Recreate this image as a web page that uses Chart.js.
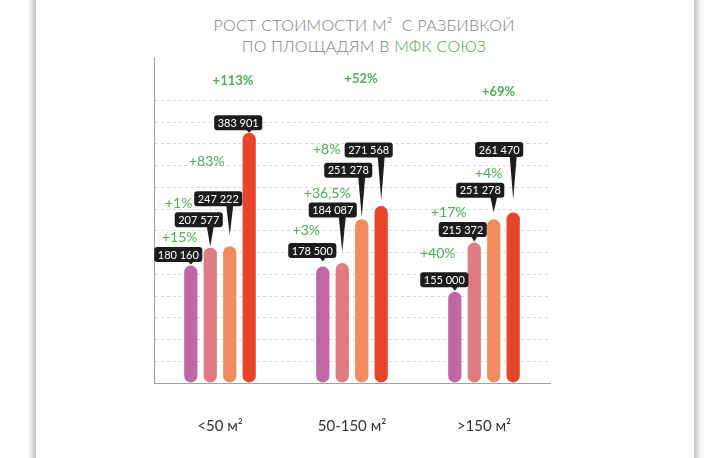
<!DOCTYPE html>
<html>
<head>
<meta charset="utf-8">
<script src="https://cdn.jsdelivr.net/npm/chart.js@4"></script>
<style>
  html, body { margin:0; padding:0; background:#fff; width:728px; height:458px; overflow:hidden; }
  #card { position:absolute; left:36px; top:-30px; width:658px; height:520px; background:#fff;
          box-shadow: 0 0 9px 1px rgba(0,0,0,0.42); }
  #title { position:absolute; left:0; top:14px; width:728px; text-align:center; font-family:Lato, sans-serif;
           font-size:16px; font-weight:300; line-height:21px; color:#7c7c7c; letter-spacing:0.3px; }
  #title .g { color:#3fa843; }
  canvas { position:absolute; left:0; top:0; }
</style>
</head>
<body>
<div id="card"></div>
<div id="title">РОСТ СТОИМОСТИ М²&nbsp; С РАЗБИВКОЙ<br>ПО ПЛОЩАДЯМ В <span class="g">МФК СОЮЗ</span></div>
<canvas id="c" width="728" height="458"></canvas>
<script>
// ---- data ----
const categories = ['<50 м²', '50-150 м²', '>150 м²'];
const series1 = [180160, 178500, 140000];
const series2 = [207577, 184087, 215372];
const series3 = [209700, 251278, 251278];
const series4 = [383901, 271568, 261470];
const valueLabels1 = ['180 160', '178 500', '155 000'];
const valueLabels2 = ['207 577', '184 087', '215 372'];
const valueLabels3 = ['247 222', '251 278', '251 278'];
const valueLabels4 = ['383 901', '271 568', '261 470'];
const growth2 = ['+15%', '+3%', '+40%'];
const growth3 = ['+1%', '+36,5%', '+17%'];
const growth4 = ['+83%', '+8%', '+4%'];
const totalGrowth = ['+113%', '+52%', '+69%'];

// ---- styles / layout ----
const barColors = ['#c267a6', '#e07b84', '#f08c5e', '#e8442a'];
const GREEN = '#4caf50';
const FONT = 'Lato, sans-serif';
const valueLabels = [valueLabels1, valueLabels2, valueLabels3, valueLabels4];
const growthLabels = [null, growth2, growth3, growth4];
// box offsets relative to bar (center x, top y): [dx, dy, tipGap]
const boxOff = [
  [[-12.5, -11, 1], [-10.5, -16, 5], [-10.5, -12, 1]],
  [[-11.5, -28, 1], [-9.5, -53, 11], [-11.5, -13, 1]],
  [[-11.5, -47.5, 11], [-13.5, -49, 2], [-13.5, -29, 7]],
  [[-11, -10, 0], [-12.5, -56, 6], [-14, -63, 13]]
];
const growthOff = [
  null,
  [[-30.5, -10], [-36, -32], [-36.5, 10.7]],
  [[-51, -43], [-34.5, -26], [-45, -7]],
  [[-42.5, 28.5], [-54.5, -56], [-24.5, -39]]
];
const totalOff = [[14, 23.5], [10, 22], [15.5, 35]];

const annotations = {
  id: 'annotations',
  afterDatasetsDraw(chart) {
    const ctx = chart.ctx;
    ctx.save();
    for (let d = 0; d < 4; d++) {
      const meta = chart.getDatasetMeta(d);
      meta.data.forEach((bar, j) => {
        if (growthLabels[d]) {
          const [gx, gy] = growthOff[d][j];
          ctx.font = '14px ' + FONT;
          ctx.fillStyle = GREEN;
          ctx.textAlign = 'center';
          ctx.textBaseline = 'middle';
          ctx.fillText(growthLabels[d][j], bar.x + gx, bar.y + gy);
        }
      });
    }
    for (let d = 0; d < 4; d++) {
      const meta = chart.getDatasetMeta(d);
      meta.data.forEach((bar, j) => {
        const [dx, dy, gap] = boxOff[d][j];
        const txt = valueLabels[d][j];
        ctx.font = '11px ' + FONT;
        const w = ctx.measureText(txt).width + 7;
        const h = 15;
        const cx = bar.x + dx, cy = bar.y + dy;
        const tipX = bar.x, tipY = bar.y - gap;
        ctx.fillStyle = '#1c1c1c';
        ctx.beginPath();
        ctx.roundRect(cx - w / 2, cy - h / 2, w, h, 3);
        ctx.fill();
        ctx.beginPath();
        ctx.moveTo(tipX - 3.5, cy + h / 2 - 1);
        ctx.lineTo(tipX + 3.5, cy + h / 2 - 1);
        ctx.lineTo(tipX, tipY);
        ctx.closePath();
        ctx.fill();
        ctx.fillStyle = '#ffffff';
        ctx.textAlign = 'center';
        ctx.textBaseline = 'middle';
        ctx.fillText(txt, cx, cy + 0.5);
      });
    }
    const xs = chart.scales.x;
    totalGrowth.forEach((t, j) => {
      const [tx, ty] = totalOff[j];
      ctx.font = 'bold 13px ' + FONT;
      ctx.fillStyle = GREEN;
      ctx.textAlign = 'center';
      ctx.textBaseline = 'middle';
      ctx.fillText(t, xs.getPixelForValue(j) - 1 + tx, chart.chartArea.top + ty);
    });
    ctx.restore();
  }
};

const mkDs = (data, i) => ({
  data, backgroundColor: barColors[i], borderRadius: 7, borderSkipped: false,
  categoryPercentage: 0.59, barPercentage: 0.68
});

new Chart(document.getElementById('c'), {
  type: 'bar',
  data: {
    labels: categories,
    datasets: [series1, series2, series3, series4].map(mkDs)
  },
  options: {
    responsive: false,
    animation: false,
    layout: { padding: { left: 154, right: 178, top: 57, bottom: 0 } },
    plugins: { legend: { display: false }, tooltip: { enabled: false }, title: { display: false } },
    scales: {
      x: {
        grid: { display: false, drawTicks: false },
        border: { display: true, color: '#a0a0a0', width: 1 },
        ticks: { padding: 34, color: '#333', font: { family: FONT, size: 15 } },
        afterFit(s) { s.height = 75; }
      },
      y: {
        min: 0, max: 500000,
        ticks: { display: false, stepSize: 100000 / 3 },
        grid: {
          drawTicks: false,
          color: c => (c.tick && c.tick.value > 0 && c.tick.value < 445000) ? '#d8d8d8' : 'rgba(0,0,0,0)',
          lineWidth: 1
        },
        border: { display: true, color: '#a0a0a0', width: 1, dash: [3, 3] },
        afterFit(s) { s.width = 0; }
      }
    }
  },
  plugins: [annotations]
});
</script>
</body>
</html>
